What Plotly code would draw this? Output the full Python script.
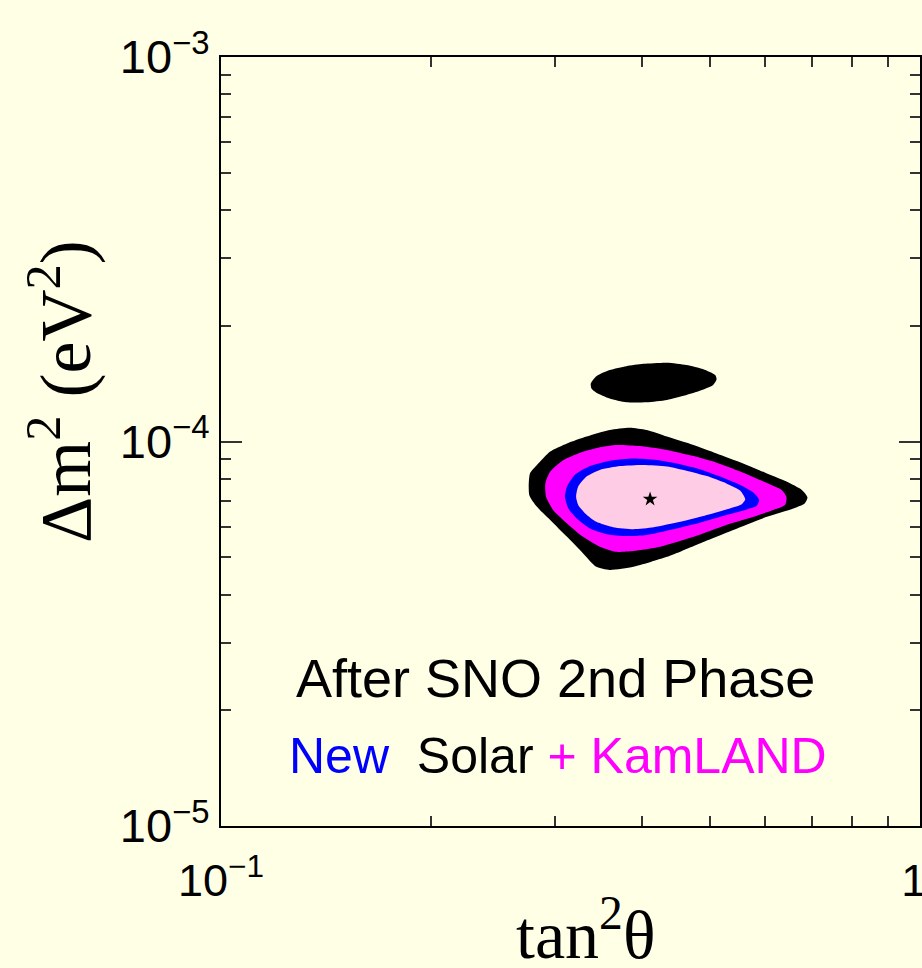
import plotly.graph_objects as go

# ---- data (log10 tan^2(theta), log10 dm^2) ----
island_lx = [-0.471, -0.463, -0.444, -0.420, -0.396, -0.362, -0.334, -0.310, -0.293, -0.291,
             -0.296, -0.315, -0.334, -0.362, -0.391, -0.420, -0.444, -0.463, -0.470]
island_ly = [-3.849, -3.830, -3.814, -3.804, -3.798, -3.795, -3.801, -3.812, -3.827, -3.838,
             -3.853, -3.868, -3.879, -3.892, -3.898, -3.898, -3.888, -3.873, -3.862]

black_lx = [-0.558, -0.548, -0.529, -0.505, -0.477, -0.444, -0.415, -0.391, -0.362, -0.324,
            -0.291, -0.253, -0.219, -0.191, -0.169, -0.161, -0.165, -0.181, -0.219, -0.267,
            -0.315, -0.362, -0.410, -0.444, -0.463, -0.482, -0.505, -0.529, -0.548, -0.559]
black_ly = [-4.083, -4.061, -4.026, -4.005, -3.987, -3.970, -3.964, -3.970, -3.987, -4.009,
            -4.031, -4.057, -4.083, -4.104, -4.126, -4.145, -4.161, -4.174, -4.196, -4.230,
            -4.265, -4.300, -4.326, -4.334, -4.326, -4.291, -4.248, -4.204, -4.170, -4.139]

magenta_lx = [-0.536, -0.529, -0.510, -0.486, -0.458, -0.434, -0.401, -0.362, -0.324, -0.291,
              -0.257, -0.224, -0.198, -0.191, -0.193, -0.210, -0.238, -0.277, -0.324, -0.372,
              -0.410, -0.436, -0.458, -0.482, -0.505, -0.525, -0.535]
magenta_ly = [-4.109, -4.078, -4.048, -4.029, -4.015, -4.009, -4.012, -4.022, -4.038, -4.055,
              -4.078, -4.104, -4.126, -4.144, -4.165, -4.178, -4.196, -4.217, -4.248, -4.274,
              -4.285, -4.287, -4.274, -4.248, -4.213, -4.178, -4.144]

blue_lx = [-0.508, -0.505, -0.494, -0.472, -0.444, -0.410, -0.377, -0.343, -0.315, -0.286,
           -0.257, -0.238, -0.230, -0.234, -0.250, -0.277, -0.315, -0.353, -0.391, -0.420,
           -0.448, -0.472, -0.491, -0.503]
blue_ly = [-4.144, -4.117, -4.087, -4.064, -4.050, -4.044, -4.048, -4.059, -4.072, -4.091,
           -4.113, -4.133, -4.152, -4.168, -4.178, -4.191, -4.211, -4.228, -4.243, -4.246,
           -4.241, -4.226, -4.200, -4.174]

pink_lx = [-0.492, -0.489, -0.477, -0.458, -0.429, -0.396, -0.362, -0.334, -0.305, -0.277,
           -0.257, -0.250, -0.255, -0.272, -0.305, -0.343, -0.381, -0.410, -0.439, -0.463,
           -0.479, -0.489]
pink_ly = [-4.144, -4.117, -4.091, -4.074, -4.064, -4.061, -4.065, -4.076, -4.090, -4.109,
           -4.128, -4.150, -4.163, -4.174, -4.191, -4.209, -4.223, -4.228, -4.223, -4.209,
           -4.187, -4.165]

best_fit_tan2 = [0.411]
best_fit_dm2 = [7.08e-5]

y_tickvals = [1e-5, 1e-4, 1e-3]
y_ticktext = ["10<sup>\u22125</sup>", "10<sup>\u22124</sup>", "10<sup>\u22123</sup>"]
x_tickvals = [0.1, 1.0]
x_ticktext = ["10<sup>\u22121</sup>", "1\u00a0"]
y_minor = [m * 10.0 ** e for e in (-5, -4) for m in range(2, 10)]
x_minor = [m / 10.0 for m in range(2, 10)]

BG = "#FFFFE6"

def pts(lx, ly):
    xs = [10 ** v for v in lx] + [10 ** lx[0]]
    ys = [10 ** v for v in ly] + [10 ** ly[0]]
    return xs, ys

fig = go.Figure()
for lx, ly, col in [(island_lx, island_ly, "black"),
                    (black_lx, black_ly, "black"),
                    (magenta_lx, magenta_ly, "#FF00FF"),
                    (blue_lx, blue_ly, "#0000FF"),
                    (pink_lx, pink_ly, "#FFCCE6")]:
    xs, ys = pts(lx, ly)
    fig.add_trace(go.Scatter(x=xs, y=ys, mode="lines", fill="toself",
                             fillcolor=col, line=dict(width=0, color=col,
                             shape="spline", smoothing=0.6),
                             hoverinfo="skip", showlegend=False))

fig.add_trace(go.Scatter(x=best_fit_tan2, y=best_fit_dm2, mode="markers",
                         marker=dict(symbol="star", size=11, color="black"),
                         showlegend=False))

xtickfont = dict(family="Liberation Sans, Arial, sans-serif", size=45, color="black")
ytickfont = dict(family="Liberation Sans, Arial, sans-serif", size=47, color="black")
minor_common = dict(ticks="inside", ticklen=10, tickwidth=1.5, tickcolor="#333", showgrid=False)

fig.update_layout(
    width=922, height=968,
    margin=dict(l=221, r=2, t=57, b=142, autoexpand=False),
    paper_bgcolor=BG, plot_bgcolor=BG,
    xaxis=dict(type="log", range=[-1, 0], showgrid=False, zeroline=False,
               showline=True, linecolor="black", linewidth=2, mirror="allticks",
               ticks="inside", ticklen=21, tickwidth=1.5, tickcolor="#333",
               tickmode="array", tickvals=x_tickvals, ticktext=x_ticktext,
               tickfont=xtickfont, ticklabelstandoff=14, ticklabeloverflow="allow",
               minor=dict(tickmode="array", tickvals=x_minor, **minor_common)),
    yaxis=dict(type="log", range=[-5, -3], showgrid=False, zeroline=False,
               showline=True, linecolor="black", linewidth=2, mirror="allticks",
               ticks="inside", ticklen=21, tickwidth=1.5, tickcolor="#333",
               tickmode="array", tickvals=y_tickvals, ticktext=y_ticktext,
               tickfont=ytickfont, ticklabelstandoff=0, ticklabeloverflow="allow",
               minor=dict(tickmode="array", tickvals=y_minor, **minor_common)),
)

serif = "Liberation Serif, Times New Roman, serif"
fig.add_annotation(text="tan<sup>2</sup>\u03b8", xref="paper", yref="paper",
                   x=(585 - 221) / 699, y=-(930 - 826) / 769, showarrow=False,
                   xanchor="center", yanchor="middle",
                   font=dict(family=serif, size=68, color="black"))
fig.add_annotation(text="\u0394m<sup>2</sup> (eV<sup>2</sup>)", xref="paper", yref="paper",
                   x=-(221 - 60) / 699, y=(826 - 392) / 769, showarrow=False,
                   textangle=-90, xanchor="center", yanchor="middle",
                   font=dict(family=serif, size=72, color="black"))

sans = "Liberation Sans, Arial, sans-serif"
fig.add_annotation(text="After SNO 2nd Phase", xref="paper", yref="paper",
                   x=(555 - 221) / 699, y=(826 - 678) / 769, showarrow=False,
                   xanchor="center", yanchor="middle",
                   font=dict(family=sans, size=54, color="black"))
fig.add_annotation(text="<span style='color:#0000FF'>New</span>  Solar "
                        "<span style='color:#FF00FF'>+ KamLAND</span>",
                   xref="paper", yref="paper",
                   x=(558 - 221) / 699, y=(826 - 756) / 769, showarrow=False,
                   xanchor="center", yanchor="middle",
                   font=dict(family=sans, size=50, color="black"))

fig.write_html("out.html", config={"displayModeBar": False},
               post_script="document.body.style.margin='0';"
                           "document.body.style.background='#FFFFE6';")
